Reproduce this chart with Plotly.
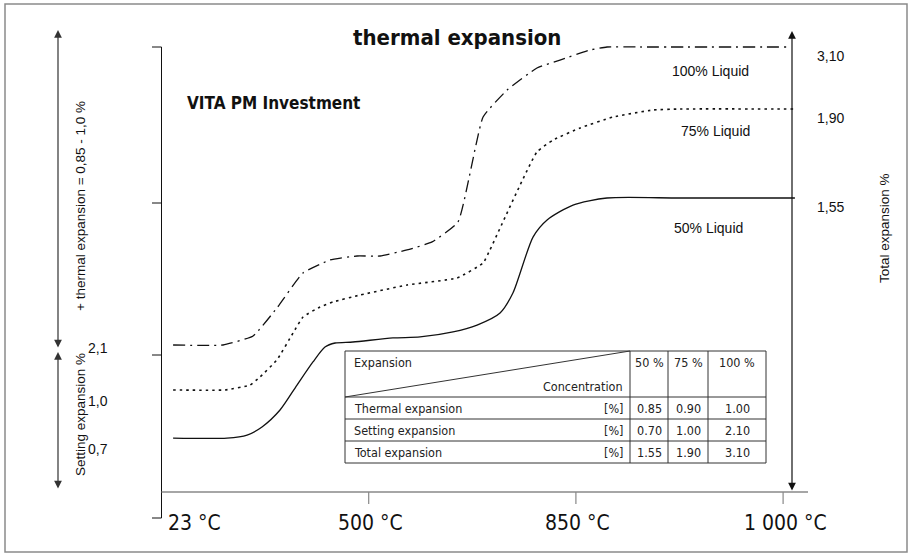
import plotly.graph_objects as go

W, H = 913, 557

# ---------------- data (schematic diagram units) ----------------
# x: temperature position (0 = 23 °C, 1 = 500 °C, 2 = 850 °C, 3 = 1000 °C)
# y: expansion level in diagram units
temp_pos = [0, 1, 2, 3]
temp_labels = ["23 °C", "500 °C", "850 °C", "1 000 °C"]

x_100 = [0.056, 0.297, 0.442, 0.557, 0.683, 0.813, 0.944, 1.055, 1.185, 1.306,
         1.431, 1.552, 1.668, 1.812, 1.923, 2.068, 2.150, 2.309, 3.033]
y_100 = [1.024, 1.024, 1.087, 1.282, 1.526, 1.616, 1.644, 1.644, 1.686, 1.742,
         1.881, 2.612, 2.800, 2.954, 3.009, 3.079, 3.100, 3.100, 3.100]

x_75 = [0.056, 0.307, 0.427, 0.475, 0.557, 0.635, 0.683, 0.765, 0.828, 0.958,
        1.185, 1.426, 1.552, 1.585, 1.812, 1.890, 2.020, 2.179, 2.372, 2.502, 3.057]
y_75 = [0.711, 0.711, 0.745, 0.801, 0.920, 1.108, 1.219, 1.289, 1.324, 1.372,
        1.442, 1.491, 1.595, 1.686, 2.369, 2.452, 2.536, 2.612, 2.661, 2.668, 2.668]

x_50 = [0.056, 0.316, 0.413, 0.485, 0.572, 0.654, 0.731, 0.789, 0.838, 0.924,
        1.117, 1.248, 1.407, 1.523, 1.634, 1.696, 1.793, 1.861, 1.986, 2.150, 2.502, 3.057]
y_50 = [0.376, 0.376, 0.397, 0.453, 0.571, 0.745, 0.906, 1.010, 1.038, 1.045,
        1.073, 1.080, 1.115, 1.163, 1.247, 1.386, 1.776, 1.895, 1.999, 2.048, 2.048, 2.048]

curve_names = ["100% Liquid", "75% Liquid", "50% Liquid"]
right_labels = ["3,10", "1,90", "1,55"]
left_labels = ["2,1", "1,0", "0,7"]

table_cols = ["50 %", "75 %", "100 %"]
table_rows = ["Thermal expansion", "Setting expansion", "Total expansion"]
thermal_vals = ["0.85", "0.90", "1.00"]
setting_vals = ["0.70", "1.00", "2.10"]
total_vals = ["1.55", "1.90", "3.10"]

# ---------------- layout geometry ----------------
X0_PX, PX_PER_T = 161.5, 207.2
Y0_PX, PX_PER_U = 492.0, 143.55
xr = [(0 - X0_PX) / PX_PER_T, (W - X0_PX) / PX_PER_T]
yr = [(Y0_PX - H) / PX_PER_U, Y0_PX / PX_PER_U]

NARROW = "Liberation Sans Narrow, Arial Narrow, DejaVu Sans Condensed, sans-serif"
ARIAL = "Liberation Sans, Arial, Helvetica, sans-serif"
INK = "#111111"


def px(xp, yp):
    return xp / W, 1 - yp / H


shapes = []
annotations = []


def pline(x0, y0, x1, y1, color=INK, width=1.0):
    a, b = px(x0, y0)
    c, d = px(x1, y1)
    shapes.append(dict(type="line", xref="paper", yref="paper", x0=a, y0=b, x1=c, y1=d,
                       line=dict(color=color, width=width)))


def ptext(xp, yp, s, size=13, family=ARIAL, anchor="center", angle=0, color=INK, bold=False):
    a, b = px(xp, yp)
    annotations.append(dict(xref="paper", yref="paper", x=a, y=b, text=("<b>%s</b>" % s) if bold else s,
                            showarrow=False, xanchor=anchor, yanchor="middle", textangle=angle,
                            font=dict(size=size, family=family, color=color)))


def parrow(xp, y_tip, y_tail, color=INK, width=1.2):
    a, b = px(xp, y_tip)
    annotations.append(dict(xref="paper", yref="paper", x=a, y=b, axref="pixel", ayref="pixel",
                            ax=0, ay=(y_tail - y_tip), text="", showarrow=True,
                            arrowhead=2, startarrowhead=2, arrowside="end+start",
                            arrowsize=1.3, startarrowsize=1.3, arrowwidth=width,
                            arrowcolor=color, standoff=0, startstandoff=0))


# outer frame
a, b = px(5, 4)
c, d = px(907, 552)
shapes.append(dict(type="rect", xref="paper", yref="paper", x0=a, y0=b, x1=c, y1=d,
                   line=dict(color="#8a8a8a", width=1.5), layer="below"))

# left bracket line with small ticks
pline(161.5, 47, 161.5, 518, INK, 1.0)
for yy in [47, 203, 355, 518]:
    pline(152, yy, 161.5, yy, INK, 1.0)

# bottom axis
pline(161.5, 492, 808, 492, "#888888", 1.6)
for t in temp_pos[1:]:
    shapes.append(dict(type="line", xref="x", yref="paper", x0=t, x1=t,
                       y0=1 - 492 / H, y1=1 - 504 / H, line=dict(color="#888888", width=1.2)))
for t, lab in zip(temp_pos, temp_labels):
    annotations.append(dict(xref="x", yref="paper", x=t, y=1 - 523 / H, text=lab, showarrow=False,
                            xanchor="left" if t == 0 else "center", yanchor="middle",
                            xshift=4 if t == 0 else 2,
                            font=dict(size=21, family=NARROW, color=INK)))

# arrows
parrow(792, 31, 492, INK, 1.2)
parrow(58, 30, 349, "#333333", 1.2)
parrow(58, 352, 490, "#333333", 1.2)

# titles
ptext(457, 38, "thermal expansion", size=22, family=NARROW, bold=True)
ptext(185, 103, "VITA PM Investment", size=17, family=NARROW, anchor="left", bold=True)

# rotated texts
ptext(80, 206, "+ thermal expansion = 0,85 - 1,0 %", size=13.5, angle=-90)
ptext(80, 415, "Setting expansion %", size=13.5, angle=-90)
ptext(884, 228, "Total expansion %", size=13.5, angle=-90)

# left value labels
for yy, lab in zip([348, 401, 449], left_labels):
    ptext(98, yy, lab, size=14)

# right value labels, at curve end levels
for yv, lab in zip([y_100[-1], y_75[-1], y_50[-1]], right_labels):
    annotations.append(dict(xref="paper", yref="y", x=830 / W, y=yv, text=lab, showarrow=False,
                            xanchor="center", yanchor="middle", yshift=-9,
                            font=dict(size=14, family=ARIAL, color=INK)))

# curve name labels
for (xx, yy), lab in zip([(710, 71), (715, 131), (708, 228)], curve_names):
    ptext(xx, yy, lab, size=14)

# curves
fig = go.Figure()
fig.add_trace(go.Scatter(x=x_100, y=y_100, mode="lines", name=curve_names[0],
                         line=dict(color=INK, width=1.3, dash="12px,5px,2px,5px", shape="spline", smoothing=0.4)))
fig.add_trace(go.Scatter(x=x_75, y=y_75, mode="lines", name=curve_names[1],
                         line=dict(color=INK, width=1.6, dash="2.5px,4px", shape="spline", smoothing=0.4)))
fig.add_trace(go.Scatter(x=x_50, y=y_50, mode="lines", name=curve_names[2],
                         line=dict(color=INK, width=1.3, shape="spline", smoothing=0.7)))

# table
cx = [345, 630, 668, 708, 766]
ry = [351, 397, 419, 441, 463]
a, b = px(cx[0], ry[0])
c, d = px(cx[-1], ry[-1])
shapes.append(dict(type="rect", xref="paper", yref="paper", x0=a, y0=b, x1=c, y1=d,
                   line=dict(color="#333333", width=1), fillcolor="white", layer="below"))
for xx in cx[1:-1]:
    pline(xx, ry[0], xx, ry[-1], "#333333", 1)
for yy in ry[1:-1]:
    pline(cx[0], yy, cx[-1], yy, "#333333", 1)
pline(cx[0], ry[1], cx[1], ry[0], "#333333", 1)

TF = 12.5
ptext(cx[0] + 7, 362, "Expansion", size=TF, family=NARROW, anchor="left", color="#222")
ptext(cx[1] - 5, 386, "Concentration", size=TF, family=NARROW, anchor="right", color="#222")
for i, col in enumerate(table_cols):
    ptext((cx[i + 1] + cx[i + 2]) / 2, 362, col, size=TF, family=NARROW, color="#222")
for r, (lab, vals) in enumerate(zip(table_rows, [thermal_vals, setting_vals, total_vals])):
    yc = (ry[r + 1] + ry[r + 2]) / 2
    ptext(cx[0] + 7, yc, lab, size=TF, family=NARROW, anchor="left", color="#222")
    ptext(cx[1] - 5, yc, "[%]", size=TF, family=NARROW, anchor="right", color="#222")
    for i, v in enumerate(vals):
        ptext((cx[i + 1] + cx[i + 2]) / 2, yc, v, size=TF, family=NARROW, color="#222")

fig.update_layout(
    width=W, height=H, margin=dict(l=0, r=0, t=0, b=0),
    paper_bgcolor="white", plot_bgcolor="white", showlegend=False,
    xaxis=dict(range=xr, visible=False, fixedrange=True),
    yaxis=dict(range=yr, visible=False, fixedrange=True),
    shapes=shapes, annotations=annotations,
)

fig.write_html("out.html", config={"displayModeBar": False},
               post_script="document.body.style.margin='0';document.body.style.overflow='hidden';")
